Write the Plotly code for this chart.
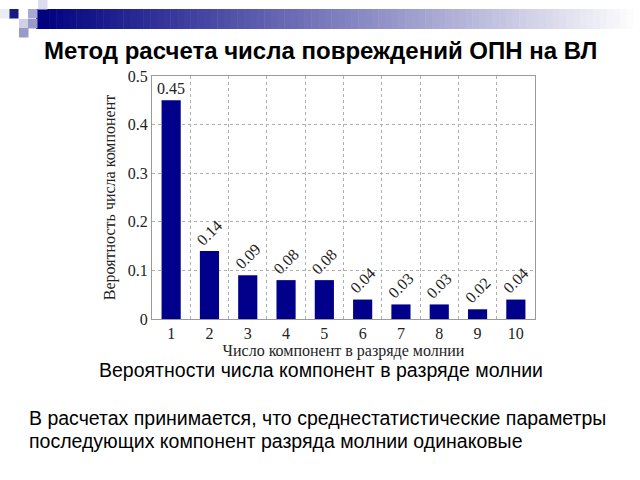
import plotly.graph_objects as go

categories = [1, 2, 3, 4, 5, 6, 7, 8, 9, 10]
probabilities = [0.45, 0.14, 0.09, 0.08, 0.08, 0.04, 0.03, 0.03, 0.02, 0.04]
value_labels = ["0.45", "0.14", "0.09", "0.08", "0.08", "0.04", "0.03", "0.03", "0.02", "0.04"]
y_ticks = [0, 0.1, 0.2, 0.3, 0.4, 0.5]
y_tick_labels = ["0", "0.1", "0.2", "0.3", "0.4", "0.5"]

W, H = 640, 480
def px(x): return x / W
def py(y): return 1 - y / H

BAR = "#00008B"
SERIF = "Liberation Serif, Times New Roman, serif"
SANS = "Liberation Sans, Arial, sans-serif"
TXT = "#222"

fig = go.Figure()
fig.add_trace(go.Bar(x=categories, y=probabilities, marker_color=BAR,
                     marker_line_width=0, width=0.5, showlegend=False))
# invisible trace for the between-bars vertical grid axis
fig.add_trace(go.Scatter(x=[0.5, 10.5], y=[0, 0], xaxis="x2", mode="markers",
                         marker_opacity=0, showlegend=False, hoverinfo="skip"))

x0, x1 = px(152), px(535)
y0, y1 = py(319), py(76)

fig.update_layout(
    width=W, height=H, margin=dict(l=0, r=0, t=0, b=0, autoexpand=False),
    paper_bgcolor="white", plot_bgcolor="white",
    xaxis=dict(domain=[x0, x1], range=[0.5, 10.5], tickvals=categories,
               ticktext=[str(c) for c in categories], showgrid=False,
               showline=True, linecolor="#9a9a9a", linewidth=1, mirror=True,
               ticks="", tickfont=dict(family=SERIF, size=16, color=TXT),
               zeroline=False, automargin=False,
               title=dict(text="Число компонент в разряде молнии",
                          font=dict(family=SERIF, size=16, color=TXT), standoff=0)),
    xaxis2=dict(overlaying="x", range=[0.5, 10.5],
                tickvals=[1.5, 2.5, 3.5, 4.5, 5.5, 6.5, 7.5, 8.5, 9.5],
                showticklabels=False, showgrid=True, griddash="dot",
                gridcolor="#b0b0b0", gridwidth=1, ticks="", zeroline=False,
                showline=False, side="bottom", automargin=False),
    yaxis=dict(domain=[y0, y1], range=[0, 0.5], tickvals=y_ticks, ticktext=y_tick_labels,
               showgrid=True, griddash="dot", gridcolor="#b0b0b0", gridwidth=1,
               showline=True, linecolor="#9a9a9a", linewidth=1, mirror=True,
               ticks="", zeroline=False, automargin=False,
               tickfont=dict(family=SERIF, size=16, color=TXT),
               title=dict(text="Вероятность числа компонент",
                          font=dict(family=SERIF, size=16, color=TXT), standoff=8)),
)

annotations = []
for c, v, lab in zip(categories, probabilities, value_labels):
    if c == 1:
        annotations.append(dict(x=c, y=v, xref="x", yref="y", text=lab, showarrow=False,
                                xanchor="center", yanchor="bottom", yshift=1,
                                font=dict(family=SERIF, size=16, color=TXT)))
    else:
        annotations.append(dict(x=c, y=v, xref="x", yref="y", text=lab, showarrow=False,
                                textangle=-45, xanchor="center", yanchor="bottom", yshift=0,
                                font=dict(family=SERIF, size=16, color=TXT)))

annotations.append(dict(x=px(320), y=py(51), xref="paper", yref="paper",
                        text="<b>Метод расчета числа повреждений ОПН на ВЛ</b>",
                        showarrow=False, xanchor="center", yanchor="middle",
                        font=dict(family=SANS, size=24, color="black")))
annotations.append(dict(x=px(321), y=py(370), xref="paper", yref="paper",
                        text="Вероятности числа компонент в разряде молнии",
                        showarrow=False, xanchor="center", yanchor="middle",
                        font=dict(family=SANS, size=19.5, color="black")))
annotations.append(dict(x=px(27), y=py(418), xref="paper", yref="paper",
                        text="В расчетах принимается, что среднестатистические параметры",
                        showarrow=False, xanchor="left", yanchor="middle",
                        font=dict(family=SANS, size=19.5, color="black")))
annotations.append(dict(x=px(27), y=py(441), xref="paper", yref="paper",
                        text="последующих компонент разряда молнии одинаковые",
                        showarrow=False, xanchor="left", yanchor="middle",
                        font=dict(family=SANS, size=19.5, color="black")))
fig.update_layout(annotations=annotations)

# decorative header: gradient band and checker squares
shapes = []
steps = 90
bx0, bx1 = 36, 640
for i in range(steps):
    t = i / (steps - 1)
    r = int(255 * t)
    g = int(255 * t)
    b = int(128 + 127 * t)
    xa = bx0 + (bx1 - bx0) * i / steps
    xb = bx0 + (bx1 - bx0) * (i + 1) / steps + 0.5
    shapes.append(dict(type="rect", xref="paper", yref="paper",
                       x0=px(xa), x1=px(xb), y0=py(29), y1=py(9),
                       fillcolor=f"rgb({r},{g},{b})", line_width=0, layer="below"))
squares = [
    (9, 9, "#1a1a80"),
    (0, 9, "#ececf6"),
    (19, 19, "#d0d0e8"),
    (28, 9, "#a8a8d4"),
    (38, 0, "#dcdcee"),
    (19, 28, "#9a9ac6"),
    (28, 19, "#9a9ac8"),
]
for sx, sy, col in squares:
    shapes.append(dict(type="rect", xref="paper", yref="paper",
                       x0=px(sx), x1=px(sx + 9.5), y0=py(sy + 9.5), y1=py(sy),
                       fillcolor=col, line_width=0, layer="above"))
fig.update_layout(shapes=shapes)

fig.write_html("out.html")
